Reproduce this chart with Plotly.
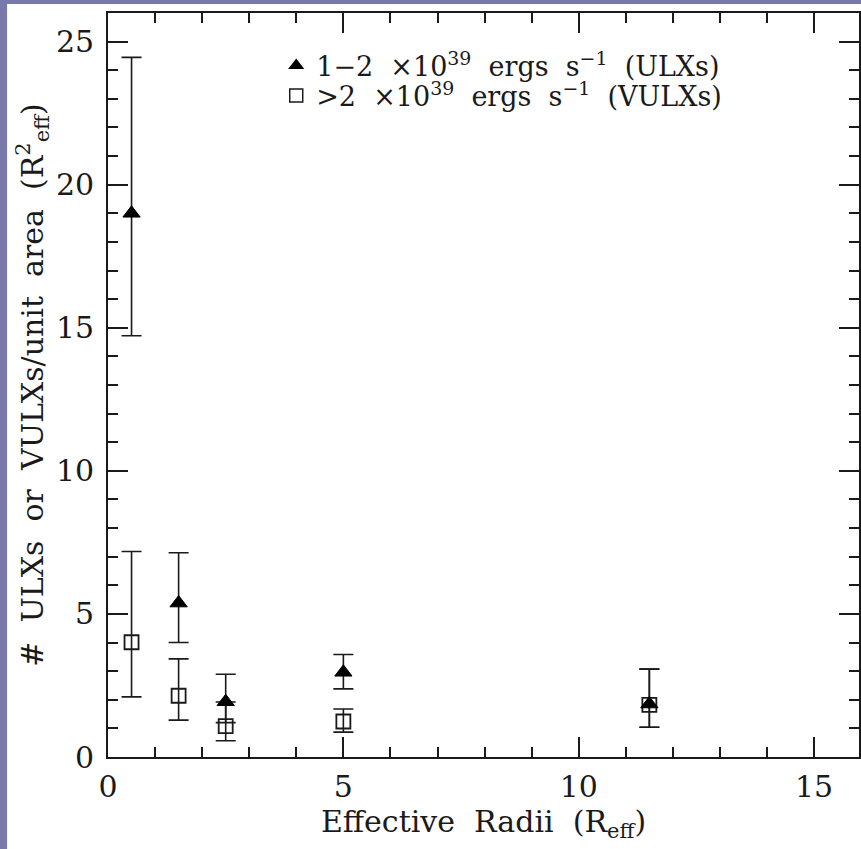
import plotly.graph_objects as go

# ---- data ----
radii = [0.5, 1.5, 2.5, 5.0, 11.5]

ulx_density = [19.0, 5.38, 1.93, 2.96, 1.85]
ulx_upper = [24.45, 7.14, 2.89, 3.58, 3.07]
ulx_lower = [14.72, 4.0, 1.2, 2.38, 1.04]

vulx_density = [4.01, 2.14, 1.08, 1.24, 1.82]
vulx_upper = [7.18, 3.43, 1.92, 1.68, 3.07]
vulx_lower = [2.1, 1.29, 0.57, 0.87, 1.04]

level_dotted = 1.70
level_solid = 1.61

SP = "&nbsp; "
ulx_label = "1\u22122" + SP + "\u00d710<sup>39</sup>" + SP + "ergs" + SP + "s<sup>\u22121</sup>" + SP + "(ULXs)"
vulx_label = "&gt;2" + SP + "\u00d710<sup>39</sup>" + SP + "ergs" + SP + "s<sup>\u22121</sup>" + SP + "(VULXs)"
x_title = "Effective" + SP + "Radii" + SP + "(R<sub>eff</sub>)"
y_title = "#" + SP + "ULXs" + SP + "or" + SP + "VULXs/unit" + SP + "area" + SP + "(R<sup>2</sup><sub>eff</sub>)"

FONT = "DejaVu Serif"
INK = "#1a1a1a"

def err(vals, up, lo):
    return dict(type="data", symmetric=False,
                array=[u - v for u, v in zip(up, vals)],
                arrayminus=[v - l for v, l in zip(vals, lo)],
                color=INK, thickness=1.6, width=10)

fig = go.Figure()

fig.add_hline(y=level_dotted, line=dict(color=INK, width=1.2, dash="dot"))
fig.add_hline(y=level_solid, line=dict(color=INK, width=1.4))

fig.add_trace(go.Scatter(
    x=radii, y=vulx_density, mode="markers", showlegend=False,
    marker=dict(symbol="square-open", size=14, color=INK, line=dict(width=1.8, color=INK)),
    error_y=err(vulx_density, vulx_upper, vulx_lower)))
fig.add_trace(go.Scatter(
    x=radii, y=ulx_density, mode="markers", showlegend=False,
    marker=dict(symbol="triangle-up", size=15, color="black", line=dict(width=1, color="black")),
    error_y=err(ulx_density, ulx_upper, ulx_lower)))

# legend-only entries
fig.add_trace(go.Scatter(
    x=[None], y=[None], mode="markers", name=ulx_label, legend="legend",
    marker=dict(symbol="triangle-up", size=14, color="black")))
fig.add_trace(go.Scatter(
    x=[None], y=[None], mode="markers", name=vulx_label, legend="legend2",
    marker=dict(symbol="square-open", size=13, color=INK, line=dict(width=1.5, color=INK))))

axis_common = dict(
    showline=True, linecolor=INK, linewidth=1.6, mirror="allticks",
    ticks="inside", ticklen=20, tickwidth=1.5, tickcolor=INK,
    showgrid=False, zeroline=False,
    tickfont=dict(family=FONT, size=30, color=INK),
    minor=dict(ticks="inside", ticklen=10, tickwidth=1.5, tickcolor=INK, dtick=1, showgrid=False),
)

fig.update_xaxes(range=[0, 753 / 47.2], tick0=0, dtick=5,
                 ticklabelstandoff=2,
                 title=dict(text=x_title, font=dict(family=FONT, size=30, color=INK), standoff=4),
                 **axis_common)
fig.update_yaxes(range=[0, 26.0], tick0=0, dtick=5,
                 ticklabelstandoff=6,
                 title=dict(text=y_title, font=dict(family=FONT, size=30, color=INK), standoff=4),
                 **axis_common)

legend_common = dict(font=dict(family=FONT, size=27, color=INK), bgcolor="rgba(0,0,0,0)",
                     borderwidth=0, xanchor="left", yanchor="middle", itemclick=False)
fig.update_layout(
    width=861, height=849, autosize=False,
    margin=dict(l=108, r=0, t=13, b=92),
    paper_bgcolor="#7878aa", plot_bgcolor="white",
    legend=dict(x=0.224, y=(757 - 66) / 744, **legend_common),
    legend2=dict(x=0.224, y=(757 - 96) / 744, **legend_common),
    shapes=[dict(type="rect", xref="paper", yref="paper", layer="below",
                 x0=(7 - 108) / 753, x1=1.01, y0=(757 - 860) / 744, y1=(757 - 4) / 744,
                 fillcolor="white", line=dict(width=0))],
)

fig.write_html("out.html")
